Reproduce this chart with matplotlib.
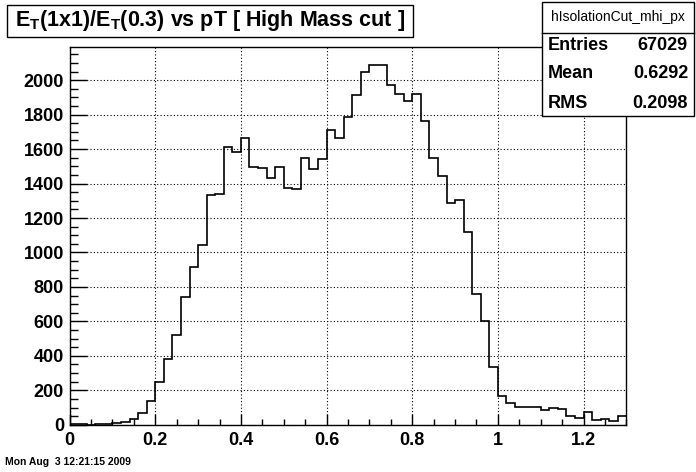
import numpy as np
import matplotlib
matplotlib.use("Agg")
import matplotlib.pyplot as plt
from matplotlib.patches import Rectangle
from matplotlib.ticker import MultipleLocator

plt.rcParams['font.family'] = ['Liberation Sans', 'DejaVu Sans']
plt.rcParams['mathtext.fontset'] = 'custom'
plt.rcParams['mathtext.rm'] = 'Liberation Sans:bold'
plt.rcParams['mathtext.bf'] = 'Liberation Sans:bold'
plt.rcParams['mathtext.it'] = 'Liberation Sans:bold'

# histogram: 65 bins of width 0.02 from 0 to 1.3
x_lo, x_hi, n_bins = 0.0, 1.3, 65
counts = [5, 5, 0, 4, 4, 10, 16, 32, 66, 138,
          248, 380, 520, 744, 914, 1041, 1332, 1338, 1612, 1581,
          1663, 1496, 1490, 1432, 1496, 1375, 1368, 1548, 1484, 1543,
          1710, 1664, 1787, 1913, 2046, 2087, 2087, 1970, 1920, 1879,
          1919, 1762, 1546, 1441, 1290, 1307, 1121, 761, 605, 338,
          170, 126, 104, 104, 104, 86, 96, 90, 50, 42,
          74, 30, 36, 24, 50]

title = r"E$_{T}$(1x1)/E$_{T}$(0.3) vs pT [ High Mass cut ]"
hist_name = "hIsolationCut_mhi_px"
stat_names = ["Entries", "Mean", "RMS"]
stat_values = ["67029", "0.6292", "0.2098"]
date_text = "Mon Aug  3 12:21:15 2009"

edges = np.linspace(x_lo, x_hi, n_bins + 1)

fig = plt.figure(figsize=(6.96, 4.72), dpi=100)
ax = fig.add_axes([0.1, 0.1, 0.8, 0.8])

ax.stairs(counts, edges, baseline=None, color='black', linewidth=1.2)

ax.set_xlim(x_lo, x_hi)
ax.set_ylim(0, max(counts) * 1.05)

ax.xaxis.set_major_locator(MultipleLocator(0.2))
ax.xaxis.set_minor_locator(MultipleLocator(0.05))
ax.yaxis.set_major_locator(MultipleLocator(200))
ax.yaxis.set_minor_locator(MultipleLocator(50))
ax.xaxis.set_major_formatter(lambda v, p: "{:g}".format(round(v, 2)))

ax.tick_params(axis='x', which='major', direction='in', length=8, width=1, pad=5)
ax.tick_params(axis='x', which='minor', direction='in', length=4, width=1)
ax.tick_params(axis='y', which='major', direction='in', length=12, width=1, pad=4)
ax.tick_params(axis='y', which='minor', direction='in', length=6, width=1)
for lab in ax.get_xticklabels() + ax.get_yticklabels():
    lab.set_fontsize(13)
    lab.set_fontweight('bold')

ax.grid(True, which='major', color='black', linestyle=(0, (1, 2)), linewidth=0.8)
for s in ax.spines.values():
    s.set_linewidth(1)

# title box
fig.patches.append(Rectangle((7 / 696, 1 - 37 / 472), 406 / 696, 32 / 472,
                             transform=fig.transFigure, facecolor='white',
                             edgecolor='black', linewidth=1))
fig.text(210 / 696, 1 - 20.5 / 472, title, ha='center', va='center',
         fontsize=15.5, fontweight='bold')

# stats box
fig.patches.append(Rectangle((542 / 696, 1 - 116 / 472), 152 / 696, 114 / 472,
                             transform=fig.transFigure, facecolor='white',
                             edgecolor='black', linewidth=1, zorder=5))
fig.lines.append(plt.Line2D([542 / 696, 694 / 696], [1 - 33 / 472, 1 - 33 / 472],
                            transform=fig.transFigure, color='black',
                            linewidth=1, zorder=6))
fig.text(618 / 696, 1 - 17 / 472, hist_name, ha='center', va='center',
         fontsize=10, zorder=7)
for i, (nm, val) in enumerate(zip(stat_names, stat_values)):
    yy = 1 - (45 + 29 * i) / 472
    fig.text(548 / 696, yy, nm, ha='left', va='center', fontsize=13,
             fontweight='bold', zorder=7)
    fig.text(688 / 696, yy, val, ha='right', va='center', fontsize=13,
             fontweight='bold', zorder=7)

fig.text(5 / 696, 1 - 462 / 472, date_text, ha='left', va='center',
         fontsize=7.5, fontweight='bold')

fig.savefig("out.png", dpi=100)
